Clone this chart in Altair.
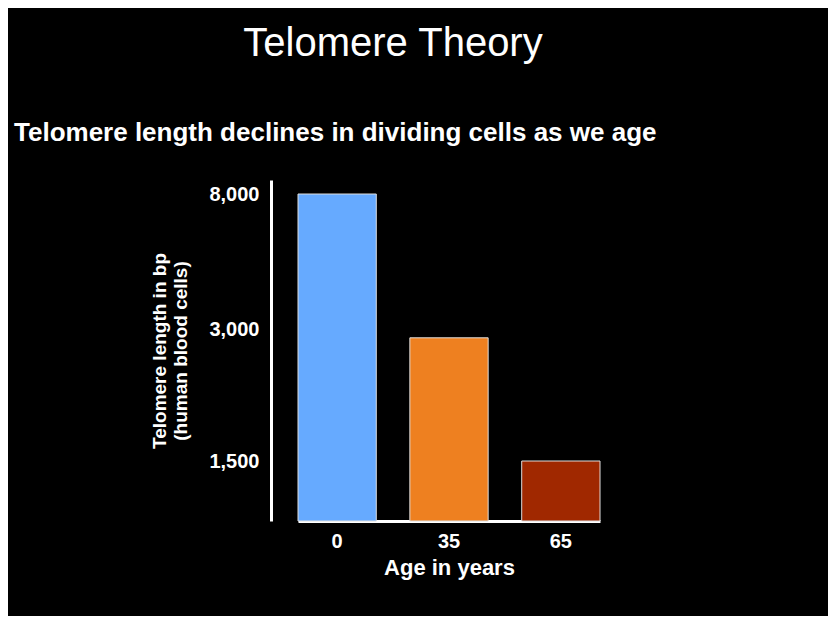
import altair as alt
import pandas as pd

ages = ["0", "35", "65"]
lengths = [8000, 2900, 1500]
colors = ["#66aaff", "#ee8020", "#a02800"]
tick_values = [1500, 3000, 8000]

df = pd.DataFrame({"age": ages, "length": lengths, "color": colors})

font = "Liberation Sans"

bars = (
    alt.Chart(df)
    .mark_bar(stroke="#dddddd", strokeWidth=1)
    .encode(
        x=alt.X(
            "age:N",
            sort=ages,
            scale=alt.Scale(range=[27, 329], paddingInner=0.3, paddingOuter=0),
            axis=alt.Axis(
                title="Age in years", labelAngle=0, labelFontSize=20, labelFontWeight="bold",
                titleFontSize=22, titleFontWeight="bold", labelPadding=10, titlePadding=6,
                ticks=False, domainWidth=3,
            ),
        ),
        y=alt.Y(
            "length:Q",
            scale=alt.Scale(domain=[0, 1500, 3000, 8000, 8500], range=[341, 281, 149, 14, 0]),
            axis=alt.Axis(
                values=tick_values, labelExpr="format(datum.value, ',')",
                title=["Telomere length in bp", "(human blood cells)"],
                labelFontSize=20, labelFontWeight="bold", titleFontSize=19, titleFontWeight="bold",
                labelPadding=12, titlePadding=18, ticks=False, grid=False, domainWidth=3,
            ),
        ),
        color=alt.Color("color:N", scale=None),
    )
)

heading = alt.Chart(pd.DataFrame({"t": ["Telomere Theory"]})).mark_text(
    fontSize=40, font=font, color="white", align="center", baseline="middle"
).encode(text="t:N", x=alt.value(122), y=alt.value(-136))

sub = alt.Chart(pd.DataFrame({"t": ["Telomere length declines in dividing cells as we age"]})).mark_text(
    fontSize=26, font=font, fontWeight="bold", color="white", align="left", baseline="middle"
).encode(text="t:N", x=alt.value(-257), y=alt.value(-47))

chart = (
    alt.layer(bars, heading, sub)
    .properties(
        width=384, height=341, background="black",
        autosize=alt.AutoSizeParams(type="none"),
        padding={"left": 263, "top": 172, "right": 173, "bottom": 95},
    )
    .configure_view(stroke=None)
    .configure_axis(
        domainColor="white", labelColor="white", titleColor="white",
        labelFont=font, titleFont=font,
    )
)

chart.save("out.html", embed_options={"renderer": "svg", "actions": False})
